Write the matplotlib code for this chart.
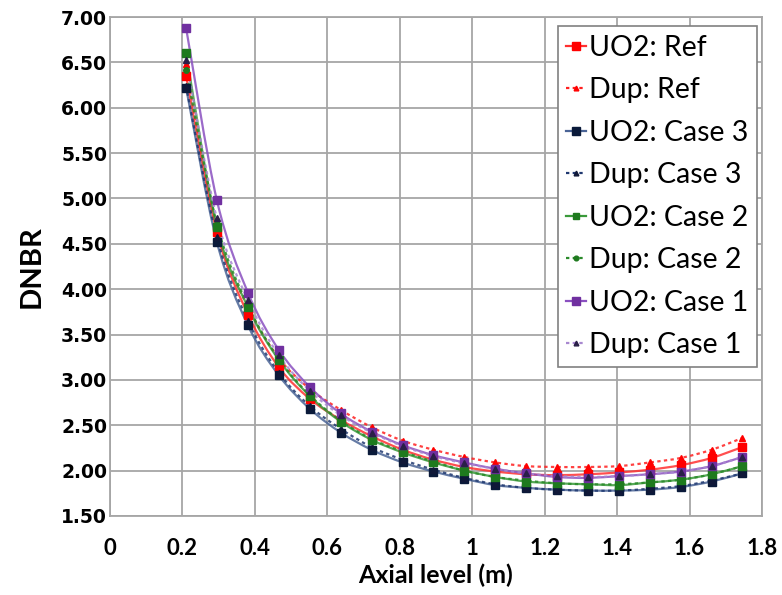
import numpy as np
import matplotlib
matplotlib.use('Agg')
import matplotlib.pyplot as plt
from matplotlib.path import Path
from matplotlib.patches import PathPatch
from matplotlib.lines import Line2D

# ---------------- data ----------------
axial = [0.210, 0.295, 0.381, 0.466, 0.552, 0.637, 0.722, 0.808, 0.893, 0.978,
         1.064, 1.149, 1.234, 1.320, 1.405, 1.490, 1.576, 1.661, 1.746]

uo2_ref = [6.35, 4.63, 3.72, 3.14, 2.79, 2.56, 2.38, 2.23, 2.12, 2.04,
           1.99, 1.96, 1.95, 1.96, 1.98, 2.01, 2.06, 2.14, 2.26]
dup_ref = [6.48, 4.66, 3.80, 3.24, 2.90, 2.67, 2.48, 2.33, 2.23, 2.15,
           2.09, 2.05, 2.04, 2.04, 2.05, 2.09, 2.14, 2.23, 2.36]
uo2_case3 = [6.22, 4.52, 3.60, 3.05, 2.68, 2.42, 2.23, 2.09, 1.99, 1.91,
             1.84, 1.81, 1.79, 1.78, 1.78, 1.79, 1.82, 1.88, 1.97]
dup_case3 = [6.24, 4.57, 3.65, 3.08, 2.71, 2.46, 2.26, 2.12, 2.01, 1.92,
             1.85, 1.81, 1.79, 1.78, 1.78, 1.80, 1.83, 1.89, 1.97]
uo2_case2 = [6.60, 4.69, 3.80, 3.22, 2.82, 2.54, 2.34, 2.20, 2.09, 2.00,
             1.93, 1.88, 1.86, 1.85, 1.84, 1.87, 1.90, 1.96, 2.05]
dup_case2 = [6.42, 4.72, 3.82, 3.23, 2.83, 2.55, 2.35, 2.21, 2.10, 2.00,
             1.93, 1.89, 1.86, 1.85, 1.85, 1.87, 1.90, 1.96, 2.05]
uo2_case1 = [6.88, 4.98, 3.96, 3.33, 2.92, 2.63, 2.43, 2.28, 2.17, 2.09,
             2.02, 1.97, 1.93, 1.92, 1.94, 1.96, 1.99, 2.05, 2.15]
dup_case1 = [6.53, 4.78, 3.88, 3.27, 2.88, 2.61, 2.42, 2.27, 2.16, 2.08,
             2.02, 1.97, 1.94, 1.93, 1.94, 1.96, 1.99, 2.05, 2.15]

labels = ["UO2: Ref", "Dup: Ref", "UO2: Case 3", "Dup: Case 3",
          "UO2: Case 2", "Dup: Case 2", "UO2: Case 1", "Dup: Case 1"]
series = [uo2_ref, dup_ref, uo2_case3, dup_case3,
          uo2_case2, dup_case2, uo2_case1, dup_case1]

xticks = [0, 0.2, 0.4, 0.6, 0.8, 1, 1.2, 1.4, 1.6, 1.8]
xticklabels = ["0", "0.2", "0.4", "0.6", "0.8", "1", "1.2", "1.4", "1.6", "1.8"]
yticks = [1.5, 2.0, 2.5, 3.0, 3.5, 4.0, 4.5, 5.0, 5.5, 6.0, 6.5, 7.0]

# ---------------- styles ----------------
styles = [
    dict(lc="#FF3030", mc="#FF0000", ls="-", marker="s", ms=6),
    dict(lc="#FF2020", mc="#FF0000", ls=(0, (1.5, 1.5)), marker="^", ms=4),
    dict(lc="#4A6496", mc="#0A1A3A", ls="-", marker="s", ms=6),
    dict(lc="#1F3870", mc="#101838", ls=(0, (1.5, 1.5)), marker="^", ms=4),
    dict(lc="#3A9A3A", mc="#1E7A1E", ls="-", marker="s", ms=5.5),
    dict(lc="#2A8A2A", mc="#1E7A1E", ls=(0, (1.5, 1.5)), marker="o", ms=4),
    dict(lc="#8A50C0", mc="#7030A0", ls="-", marker="s", ms=6),
    dict(lc="#A888D0", mc="#2A1F48", ls=(0, (1.5, 1.5)), marker="^", ms=4),
]


def smooth_path(x, y):
    x = np.asarray(x, float)
    y = np.asarray(y, float)
    n = len(x)
    verts = [(x[0], y[0])]
    codes = [Path.MOVETO]
    for i in range(n - 1):
        p0 = np.array([x[max(i - 1, 0)], y[max(i - 1, 0)]])
        p1 = np.array([x[i], y[i]])
        p2 = np.array([x[i + 1], y[i + 1]])
        p3 = np.array([x[min(i + 2, n - 1)], y[min(i + 2, n - 1)]])
        c1 = p1 + (p2 - p0) / 6.0
        c2 = p2 - (p3 - p1) / 6.0
        verts += [tuple(c1), tuple(c2), tuple(p2)]
        codes += [Path.CURVE4, Path.CURVE4, Path.CURVE4]
    return Path(verts, codes)


fig = plt.figure(figsize=(7.82, 5.95), dpi=100)
ax = fig.add_axes([0.1407, 0.1328, 0.8337, 0.8386])

handles = []
for vals, st, lab in zip(series, styles, labels):
    patch = PathPatch(smooth_path(axial, vals), facecolor="none",
                      edgecolor=st["lc"], lw=1.6, linestyle=st["ls"],
                      alpha=0.85, zorder=3)
    ax.add_patch(patch)
    ax.plot(axial, vals, linestyle="none", marker=st["marker"],
            ms=st["ms"], color=st["mc"], zorder=4)
    handles.append(Line2D([0], [0], color=st["lc"], lw=1.6,
                          linestyle=st["ls"], marker=st["marker"],
                          ms=st["ms"] * 0.85, markerfacecolor=st["mc"],
                          markeredgecolor=st["mc"]))

ax.set_xlim(0, 1.8)
ax.set_ylim(1.5, 7.0)
ax.set_xticks(xticks)
ax.set_xticklabels(xticklabels, fontsize=16, fontweight="bold",
                   family=["Lato", "DejaVu Sans"])
ax.set_yticks(yticks)
ax.set_yticklabels(["%.2f" % v for v in yticks], fontsize=13.5,
                   fontweight="bold", family="DejaVu Sans")
ax.tick_params(axis="x", length=0, pad=16)
ax.tick_params(axis="y", length=0, pad=2)
ax.grid(True, color="#A6A6A6", lw=1.3)
ax.set_axisbelow(True)
for sp in ax.spines.values():
    sp.set_color("#A6A6A6")
    sp.set_linewidth(1.3)

ax.set_xlabel("Axial level (m)", fontsize=18, fontweight="bold",
              family=["Lato", "DejaVu Sans"], labelpad=3)
ax.set_ylabel("DNBR", fontsize=21, fontweight="bold",
              family=["Lato", "DejaVu Sans"], labelpad=12)

leg = ax.legend(handles, labels, loc="upper right",
                bbox_to_anchor=(0.992, 0.982),
                prop={"family": ["Lato", "DejaVu Sans"], "size": 20.5},
                frameon=True, fancybox=False, edgecolor="#808080",
                framealpha=1, handlelength=0.7, handletextpad=0.1,
                labelspacing=0.58, borderpad=0.3, borderaxespad=0)
leg.get_frame().set_linewidth(1.2)

fig.savefig("out.png", dpi=100)
